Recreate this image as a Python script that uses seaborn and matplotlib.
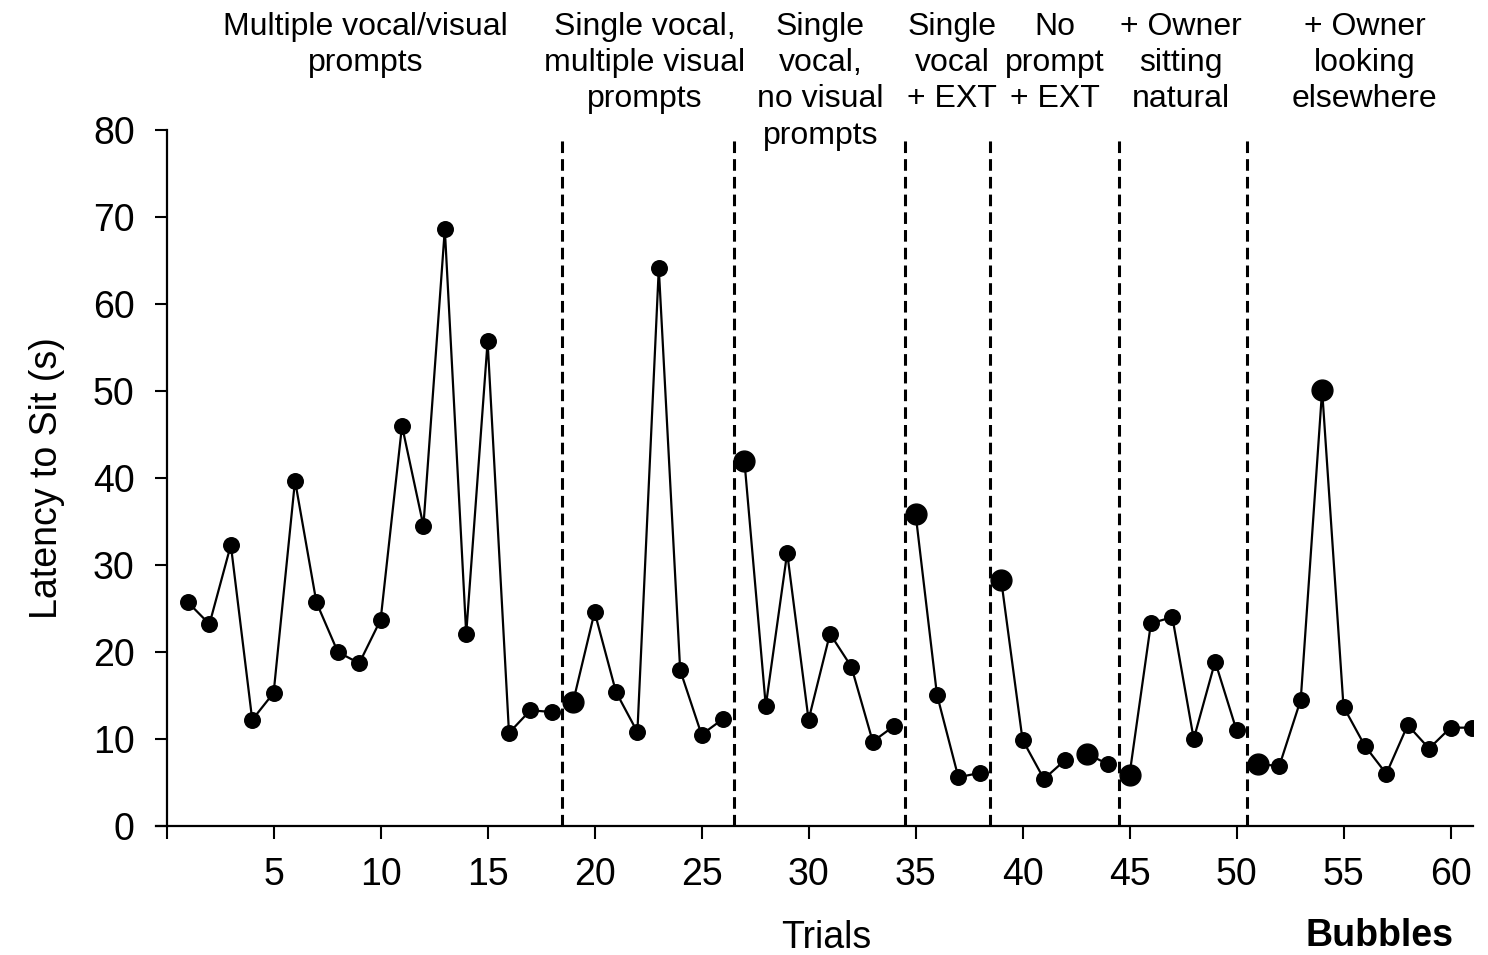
import numpy as np
import pandas as pd
import matplotlib
matplotlib.use("Agg")
import matplotlib.pyplot as plt
import matplotlib.transforms as mtransforms
import seaborn as sns

# ---- data ----
trials = list(range(1, 62))
latency = [25.7, 23.2, 32.3, 12.2, 15.3, 39.7, 25.7, 20.0, 18.7, 23.7,
           46.0, 34.5, 68.6, 22.1, 55.7, 10.7, 13.3, 13.1, 14.3, 24.6,
           15.4, 10.8, 64.1, 17.9, 10.5, 12.3, 42.0, 13.8, 31.4, 12.2,
           22.1, 18.3, 9.7, 11.5, 35.9, 15.1, 5.6, 6.1, 28.3, 9.9,
           5.4, 7.6, 8.3, 7.1, 5.9, 23.3, 24.0, 10.0, 18.9, 11.0,
           7.1, 6.9, 14.5, 50.1, 13.7, 9.2, 6.0, 11.6, 8.9, 11.3, 11.3]
# trials that begin a new connected line segment
segment_starts = [1, 19, 27, 35, 39, 43, 45, 51]
# trials drawn with a larger marker
big_markers = [19, 27, 35, 39, 43, 45, 51, 54]
# phase boundaries (between trials)
phase_bounds = [18.5, 26.5, 34.5, 38.5, 44.5, 50.5]
phase_labels = ["Multiple vocal/visual\nprompts",
                "Single vocal,\nmultiple visual\nprompts",
                "Single\nvocal,\nno visual\nprompts",
                "Single\nvocal\n+ EXT",
                "No\nprompt\n+ EXT",
                "+ Owner\nsitting\nnatural",
                "+ Owner\nlooking\nelsewhere"]
phase_label_x = [9.3, 22.35, 30.55, 36.7, 41.5, 47.4, 56.0]
xticks = [0, 5, 10, 15, 20, 25, 30, 35, 40, 45, 50, 55, 60]
xticklabels = ["", "5", "10", "15", "20", "25", "30", "35", "40", "45", "50", "55", "60"]
yticks = [0, 10, 20, 30, 40, 50, 60, 70, 80]

seg = np.searchsorted(segment_starts, trials, side="right")
df = pd.DataFrame({"trial": trials, "latency": latency, "segment": seg,
                   "big": [t in big_markers for t in trials]})

sns.set_theme(style="ticks")
plt.rcParams["font.family"] = ["Liberation Sans", "DejaVu Sans"]
plt.rcParams["text.color"] = "black"

fig = plt.figure(figsize=(14.88, 9.55), dpi=100)
ax = fig.add_axes([0.1048, 0.1351, 0.8851, 0.7288])

sns.lineplot(data=df, x="trial", y="latency", units="segment", estimator=None,
             color="black", lw=1.6, ax=ax, legend=False, sort=False)
small = df[~df["big"]]
big = df[df["big"]]
ax.plot(small["trial"], small["latency"], "o", color="black", ms=11.2, zorder=3)
ax.plot(big["trial"], big["latency"], "o", color="black", ms=15, zorder=3)

for b in phase_bounds:
    ax.plot([b, b], [0, 79.2], color="black", ls=(0, (3.8, 2.0)), lw=2.2, zorder=1)

blend = mtransforms.blended_transform_factory(ax.transData, fig.transFigure)
for lbl, xc in zip(phase_labels, phase_label_x):
    ax.text(xc, 1 - 12 / 955, lbl, transform=blend, ha="center", va="top",
            fontsize=23, linespacing=1.27, color="black")

ax.set_xlim(-0.5, 61.05)
ax.set_ylim(0, 80)
ax.spines["left"].set_position(("data", 0))
ax.spines["left"].set_bounds(0, 80)
sns.despine(ax=ax, top=True, right=True)
ax.set_xticks(xticks)
ax.set_xticklabels(xticklabels)
ax.set_yticks(yticks)
ax.tick_params(axis="both", direction="out", length=9, width=1.5, labelsize=27,
               colors="black", labelcolor="black")
ax.tick_params(axis="x", pad=13)
ax.tick_params(axis="y", pad=14)
for s in ["left", "bottom"]:
    ax.spines[s].set_linewidth(1.6)
    ax.spines[s].set_color("black")

ax.set_xlabel("")
ax.set_ylabel("")
fig.text(826 / 1488, 1 - 938 / 955, "Trials", ha="center", va="center", fontsize=27, color="black")
fig.text(1380 / 1488, 1 - 936 / 955, "Bubbles", ha="center", va="center", fontsize=27,
         fontweight="bold", color="black")
fig.text(47 / 1488, 1 - 478 / 955, "Latency to Sit (s)", ha="center", va="center",
         rotation=90, fontsize=27, color="black")

fig.savefig("out.png", dpi=100, facecolor="white")
